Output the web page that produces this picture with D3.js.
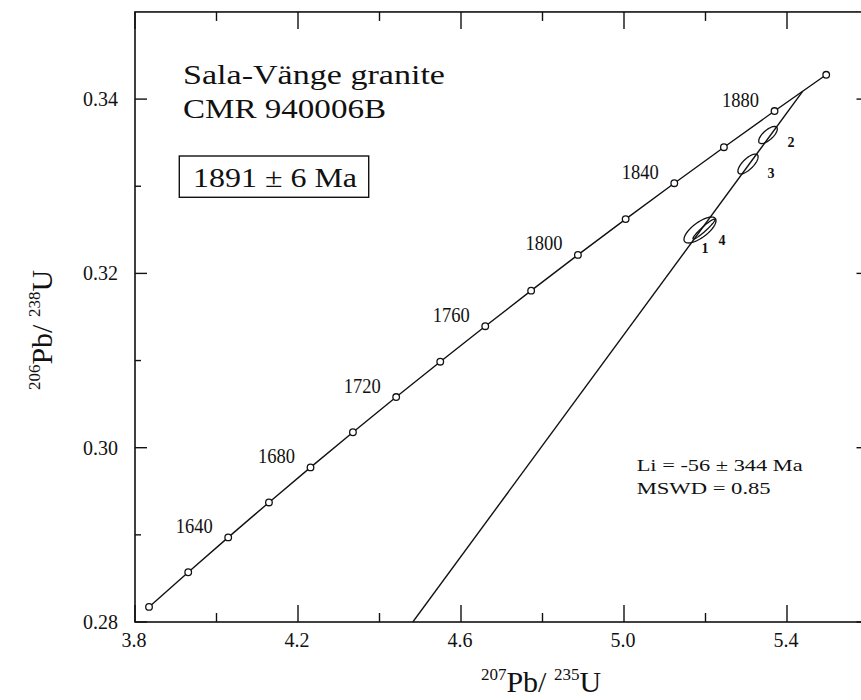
<!DOCTYPE html>
<html><head><meta charset="utf-8">
<script src="https://cdn.jsdelivr.net/npm/d3@7"></script>
<style>
html,body{margin:0;padding:0;background:#fff;}
svg{display:block;}
text{font-family:"Liberation Serif","Times New Roman",serif;fill:#111;}
</style></head>
<body><svg id="c" width="861" height="700"></svg>
<script>
// ---- data ----
const concordiaAge = [1600,1620,1640,1660,1680,1700,1720,1740,1760,1780,1800,1820,1840,1860,1880,1900];
const concordiaX = [3.8344,3.9306,4.0287,4.1287,4.2307,4.3348,4.4409,4.5491,4.6595,4.7721,4.8869,5.0040,5.1234,5.2452,5.3694,5.4962];
const concordiaY = [0.28173,0.28571,0.28971,0.29372,0.29774,0.30177,0.30581,0.30987,0.31394,0.31802,0.32212,0.32623,0.33035,0.33448,0.33863,0.34279];
const ageLabels = [1640,1680,1720,1760,1800,1840,1880];

const spotIds = ["1","2","3","4"];
const spotX   = [5.1865,5.3534,5.3043,5.1963];
const spotY   = [0.32498,0.33588,0.33255,0.32509];
const spotSX  = [0.0393,0.0228,0.0248,0.0270];
const spotSY  = [0.00149,0.00098,0.00114,0.001147];
const spotRho = [0.72,0.70,0.72,0.95];

const upperIntercept = [5.4388,0.34091];
const lowerIntercept = [-0.0537,-0.00865];

const xTicksMajor = [3.8,4.2,4.6,5.0,5.4];
const xTickLabels = ["3.8","4.2","4.6","5.0","5.4"];
const xTicksMinor = [4.0,4.4,4.8,5.2];
const yTicksMajor = [0.28,0.30,0.32,0.34];
const yTickLabels = ["0.28","0.30","0.32","0.34"];
const yTicksMinor = [0.29,0.31,0.33];

const titleLines = ["Sala-Vänge granite","CMR 940006B"];
const ageText = "1891 ± 6 Ma";
const statLines = ["Li = -56 ± 344 Ma","MSWD = 0.85"];

// ---- layout ----
const L = 135, R = 868.5, T = 11.95, B = 622;
const svg = d3.select("#c");
const x = d3.scaleLinear().domain([3.8,5.6]).range([L,R]);
const y = d3.scaleLinear().domain([0.28,0.35]).range([B,T]);
const ink = "#111";

svg.append("defs").append("clipPath").attr("id","pc")
  .append("rect").attr("x",L).attr("y",T).attr("width",R-L).attr("height",B-T);

// frame
svg.append("rect").attr("x",L).attr("y",T).attr("width",R-L).attr("height",B-T)
  .attr("fill","none").attr("stroke",ink).attr("stroke-width",1.6);

// ticks (inward) on all four sides
const g = svg.append("g").attr("stroke",ink).attr("stroke-width",1.4);
function xt(v,len){
  g.append("line").attr("x1",x(v)).attr("x2",x(v)).attr("y1",B).attr("y2",B-len);
  g.append("line").attr("x1",x(v)).attr("x2",x(v)).attr("y1",T).attr("y2",T+len);
}
function yt(v,len){
  g.append("line").attr("y1",y(v)).attr("y2",y(v)).attr("x1",L).attr("x2",L+len);
  g.append("line").attr("y1",y(v)).attr("y2",y(v)).attr("x1",R).attr("x2",R-len);
}
xTicksMajor.forEach(v=>xt(v,17)); xTicksMinor.forEach(v=>xt(v,9));
yTicksMajor.forEach(v=>yt(v,12)); yTicksMinor.forEach(v=>yt(v,6));

// tick labels
xTicksMajor.forEach((v,i)=>svg.append("text").attr("x",x(v)-1).attr("y",647)
  .attr("text-anchor","middle").attr("font-size",20).text(xTickLabels[i]));
yTicksMajor.forEach((v,i)=>svg.append("text").attr("x",118).attr("y",y(v)+7)
  .attr("text-anchor","end").attr("font-size",20).text(yTickLabels[i]));

// axis titles
const xtitle = svg.append("text").attr("x",541).attr("y",692).attr("text-anchor","middle").attr("font-size",30);
xtitle.append("tspan").attr("font-size",17).attr("dy",-12).text("207");
xtitle.append("tspan").attr("dy",12).text("Pb/ ");
xtitle.append("tspan").attr("font-size",17).attr("dy",-12).text("235");
xtitle.append("tspan").attr("dy",12).text("U");

const ytitle = svg.append("text").attr("transform","translate(52,330) rotate(-90)").attr("text-anchor","middle").attr("font-size",30);
ytitle.append("tspan").attr("font-size",17).attr("dy",-12).text("206");
ytitle.append("tspan").attr("dy",12).text("Pb/ ");
ytitle.append("tspan").attr("font-size",17).attr("dy",-12).text("238");
ytitle.append("tspan").attr("dy",12).text("U");

const plot = svg.append("g").attr("clip-path","url(#pc)");

// discordia
const slope = (upperIntercept[1]-lowerIntercept[1])/(upperIntercept[0]-lowerIntercept[0]);
const xAtBottom = lowerIntercept[0] + (0.28-lowerIntercept[1])/slope;
plot.append("line").attr("x1",x(xAtBottom)).attr("y1",y(0.28))
  .attr("x2",x(upperIntercept[0])).attr("y2",y(upperIntercept[1]))
  .attr("stroke",ink).attr("stroke-width",1.4);

// concordia
const pts = concordiaX.map((v,i)=>[v,concordiaY[i]]);
plot.append("path").attr("d",d3.line().x(d=>x(d[0])).y(d=>y(d[1]))(pts))
  .attr("fill","none").attr("stroke",ink).attr("stroke-width",1.4);
plot.selectAll("circle.c").data(pts).join("circle").attr("class","c")
  .attr("cx",d=>x(d[0])).attr("cy",d=>y(d[1])).attr("r",3.3)
  .attr("fill","#fff").attr("stroke",ink).attr("stroke-width",1.3);

// age labels
ageLabels.forEach(a=>{
  const i = concordiaAge.indexOf(a);
  svg.append("text").attr("x",x(concordiaX[i])-34).attr("y",y(concordiaY[i])-4.5)
    .attr("text-anchor","middle").attr("font-size",20)
    .attr("textLength",37).attr("lengthAdjust","spacingAndGlyphs").text(a);
});

// error ellipses
const ell = d3.line().x(d=>x(d[0])).y(d=>y(d[1])).curve(d3.curveLinearClosed);
spotIds.forEach((id,k)=>{
  const p = d3.range(0,72).map(j=>{
    const t = j/72*2*Math.PI;
    const r = spotRho[k];
    return [spotX[k]+spotSX[k]*Math.cos(t),
            spotY[k]+spotSY[k]*(r*Math.cos(t)+Math.sqrt(1-r*r)*Math.sin(t))];
  });
  plot.append("path").attr("d",ell(p)).attr("fill","none").attr("stroke",ink).attr("stroke-width",1.3);
});
const spotLabelOffset = [[5,23],[23,12],[23,14],[18,16]];
spotIds.forEach((id,k)=>{
  svg.append("text").attr("x",x(spotX[k])+spotLabelOffset[k][0]).attr("y",y(spotY[k])+spotLabelOffset[k][1])
    .attr("text-anchor","middle").attr("font-size",14).attr("font-weight","bold").text(id);
});

// annotations
svg.append("text").attr("x",183).attr("y",84).attr("font-size",28)
  .attr("textLength",262).attr("lengthAdjust","spacingAndGlyphs").text(titleLines[0]);
svg.append("text").attr("x",183).attr("y",118.3).attr("font-size",28)
  .attr("textLength",203).attr("lengthAdjust","spacingAndGlyphs").text(titleLines[1]);
svg.append("rect").attr("x",179.3).attr("y",156).attr("width",189.4).attr("height",41.3)
  .attr("fill","none").attr("stroke",ink).attr("stroke-width",1.4);
svg.append("text").attr("x",193).attr("y",186.7).attr("font-size",28)
  .attr("textLength",164).attr("lengthAdjust","spacingAndGlyphs").text(ageText);
svg.append("text").attr("x",636.7).attr("y",470.7).attr("font-size",17)
  .attr("textLength",166).attr("lengthAdjust","spacingAndGlyphs").text(statLines[0]);
svg.append("text").attr("x",636.7).attr("y",494).attr("font-size",17)
  .attr("textLength",134).attr("lengthAdjust","spacingAndGlyphs").text(statLines[1]);
</script></body></html>
